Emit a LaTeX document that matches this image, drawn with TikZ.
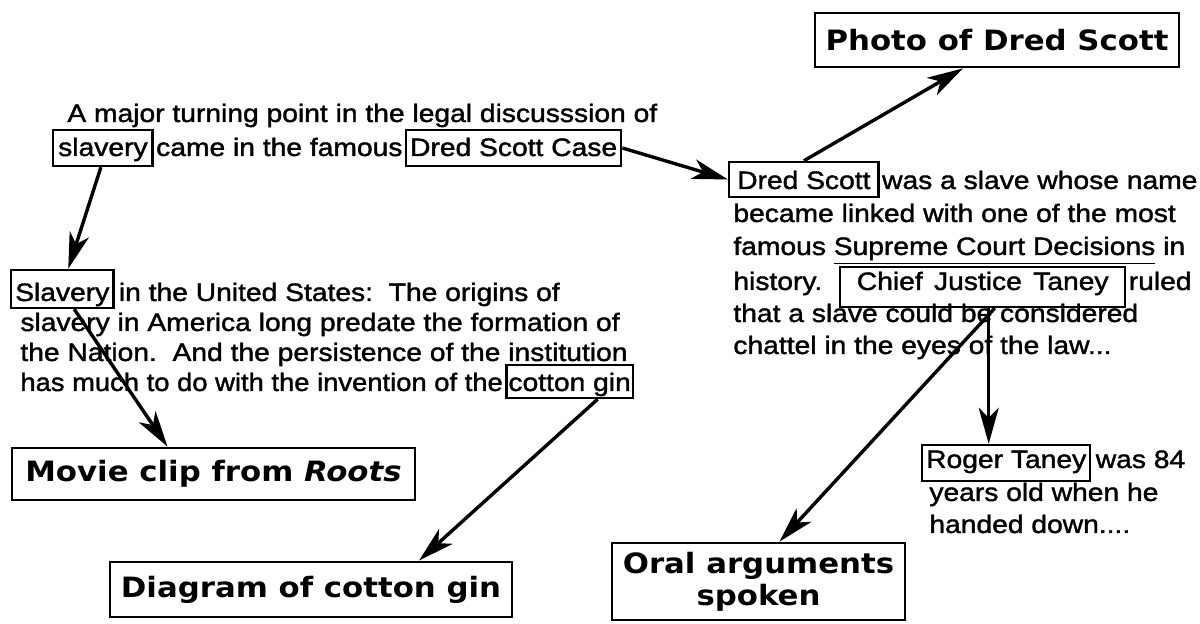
\documentclass[tikz,border=0pt]{standalone}
\usepackage{fontspec}
\setmainfont{Liberation Sans}[FakeStretch=1.12,FakeBold=1.5]
\newfontfamily\chicago{DejaVu Sans}[FakeStretch=1.1]
\usetikzlibrary{arrows.meta}
\tikzset{
  txt/.style={inner sep=0pt, anchor=base west, font=\fontsize{12.6}{15}\selectfont},
  wbox/.style={draw, line width=1.2pt, inner ysep=0pt, inner xsep=3pt, anchor=base west,
               font=\fontsize{12.6}{15}\selectfont},
  bigbox/.style={draw, line width=1.4pt, font=\chicago\bfseries\fontsize{14}{17}\selectfont,
                 align=center, inner sep=0pt},
  arr/.style={line width=1.7pt, -{Stealth[length=18pt,width=10pt,inset=5pt]}},
}
\begin{document}
\begin{tikzpicture}[x=0.5pt,y=-0.5pt]
\useasboundingbox (0,0) rectangle (1200,624);
% paragraph 1
\node[txt] (p1a) at (67,122) {A major turning point in the legal discusssion of};
\node[wbox, text height=13pt, text depth=5pt, inner xsep=2.5pt] (slv) at (52,156) {slavery};
\node[txt] (p1b) at ([xshift=1pt]slv.base east) {came in the famous};
\node[wbox, text height=13pt, text depth=5pt, inner xsep=2pt] (dsc) at ([xshift=1pt]p1b.base east) {Dred Scott Case};
% paragraph 2
\node[wbox, text height=15.5pt, text depth=3.5pt, inner xsep=2pt] (Slv) at (10,301) {Slavery};
\node[txt] (p2a) at ([xshift=2pt]Slv.base east) {in the United States:~~The origins of};
\node[txt] (p2b) at (20,331) {slavery in America long predate the formation of};
\node[txt] (p2c) at (20,361) {the Nation.~~And the persistence of the institution};
\node[txt] (p2d) at (20,391) {\scalebox{0.97}[1]{has much to do with the invention of the}};
\node[wbox, text height=13pt, text depth=3.5pt, inner xsep=1pt] (cot) at ([xshift=1pt]p2d.base east) {cotton gin};
% paragraph 3
\node[wbox, text height=13.5pt, text depth=4pt, inner xsep=4pt] (ds) at (728,189) {Dred Scott};
\node[txt] (p3a) at ([xshift=1pt]ds.base east) {was a slave whose name};
\node[txt] (p3b) at (733,222) {became linked with one of the most};
\node[txt] (p3c) at (733,255) {famous \underline{Supreme Court Decisions} in};
\node[txt] (p3d) at (733,290) {history.};
\node[wbox, text height=11.5pt, text depth=8.5pt, minimum width=142.5pt] (cjt) at (839,290)
  {Chief\hspace{0.45em}Justice\hspace{0.45em}Taney};
\node[txt] (p3e) at ([xshift=1pt]cjt.base east) {ruled};
\node[txt] (p3f) at (733,322) {that a slave could be considered};
\node[txt] (p3g) at (733,354) {chattel in the eyes of the law...};
% paragraph 4
\node[wbox, text height=11.5pt, text depth=6.5pt, inner xsep=2pt] (rt) at (921,468) {Roger Taney};
\node[txt] (p4a) at ([xshift=2pt]rt.base east) {was 84};
\node[txt] (p4b) at (929,501) {years old when he};
\node[txt] (p4c) at (929,533) {handed down....};
% media boxes
\node[bigbox, minimum width=182pt, minimum height=27pt] (photo) at (997,40) {Photo of Dred Scott};
\node[bigbox, minimum width=201.5pt, minimum height=26pt] (movie) at (213.5,474) {Movie clip from \textit{Roots}};
\node[bigbox, minimum width=201pt, minimum height=27.5pt] (diag) at (311,589.5) {Diagram of cotton gin};
\node[bigbox, minimum width=146.5pt, minimum height=38.5pt] (oral) at (758.5,581.5) {Oral arguments\\[-1pt]spoken};
% connectors
\draw[arr] ([xshift=-1pt]slv.south) -- ([xshift=3pt]Slv.north);
\draw[arr] (dsc.east) -- (ds.west);
\draw[arr] (ds.north) -- ([xshift=-17pt]photo.south);
\draw[arr] ([xshift=6pt]Slv.south) -- ([xshift=-23pt]movie.north);
\draw[arr] ([xshift=14pt]cot.south) -- ([xshift=54pt]diag.north);
\draw[arr] ([xshift=3pt]cjt.south) -- ([xshift=3pt]cjt.south |- rt.north);
\draw[arr] ([xshift=6pt]cjt.south) -- ([xshift=10.5pt]oral.north);
\end{tikzpicture}
\end{document}
